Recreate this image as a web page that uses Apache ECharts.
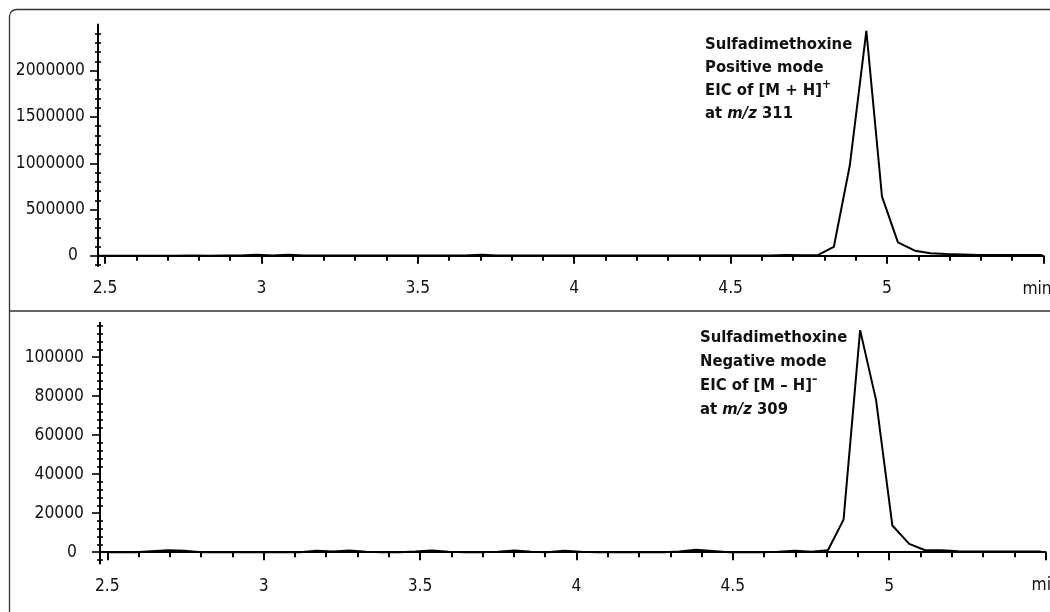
<!DOCTYPE html>
<html>
<head>
<meta charset="utf-8">
<script src="https://cdn.jsdelivr.net/npm/echarts@6/dist/echarts.min.js"></script>
<style>
html,body{margin:0;padding:0;background:#fff;}
#chart{width:1050px;height:612px;}
</style>
</head>
<body>
<div id="chart"></div>
<script>
// ---- data ----
const posTime = [2.478, 2.523, 2.574, 2.626, 2.677, 2.728, 2.779, 2.831, 2.882, 2.933, 2.985, 3.036, 3.087, 3.138, 3.190, 3.241, 3.292, 3.344, 3.395, 3.446, 3.498, 3.549, 3.600, 3.651, 3.703, 3.754, 3.805, 3.857, 3.908, 3.959, 4.011, 4.062, 4.113, 4.164, 4.216, 4.267, 4.318, 4.370, 4.421, 4.472, 4.524, 4.575, 4.626, 4.677, 4.729, 4.780, 4.830, 4.881, 4.934, 4.984, 5.035, 5.089, 5.139, 5.190, 5.241, 5.292, 5.344, 5.395, 5.446, 5.497];
const posIntensity = [2000, 2000, 2000, 2000, 2000, 2000, 2500, 2000, 2500, 3000, 12000, 4000, 12000, 4000, 3000, 2500, 2500, 2500, 2500, 2500, 2500, 2500, 3000, 3000, 11000, 3000, 2500, 2500, 2500, 2500, 2500, 2500, 2500, 2500, 2500, 2500, 2500, 3000, 3000, 3000, 3000, 3500, 4000, 10000, 5000, 9000, 97000, 975000, 2430000, 640000, 145000, 55000, 27000, 20000, 15000, 9000, 8000, 8000, 8000, 8000];

const negTime = [2.506, 2.589, 2.641, 2.694, 2.747, 2.800, 2.852, 2.905, 2.958, 3.011, 3.063, 3.116, 3.169, 3.222, 3.274, 3.327, 3.380, 3.433, 3.485, 3.538, 3.591, 3.644, 3.696, 3.749, 3.802, 3.855, 3.907, 3.960, 4.013, 4.066, 4.118, 4.171, 4.224, 4.277, 4.329, 4.382, 4.435, 4.488, 4.540, 4.593, 4.646, 4.699, 4.751, 4.804, 4.854, 4.907, 4.958, 5.010, 5.064, 5.115, 5.168, 5.221, 5.275, 5.328, 5.380, 5.433, 5.485];
const negIntensity = [0, 0, 500, 1000, 800, 0, 0, 0, 0, 0, 0, 0, 700, 300, 900, 200, 0, 0, 300, 900, 200, 0, 0, 200, 900, 200, 0, 800, 200, 0, 0, 0, 0, 0, 400, 1200, 600, 0, 0, 0, 200, 800, 200, 1000, 16700, 113900, 78000, 13700, 4300, 1000, 1000, 500, 300, 300, 300, 300, 300];

const xMajorTicks = [2.5, 3, 3.5, 4, 4.5, 5, 5.5];
const xTickLabels = [2.5, 3, 3.5, 4, 4.5, 5];
const xMinorTicks = [2.6, 2.7, 2.8, 2.9, 3.1, 3.2, 3.3, 3.4, 3.6, 3.7, 3.8, 3.9, 4.1, 4.2, 4.3, 4.4, 4.6, 4.7, 4.8, 4.9, 5.1, 5.2, 5.3, 5.4];
const posYTicks = [0, 500000, 1000000, 1500000, 2000000];
const posYMinor = [-100000, 100000, 200000, 300000, 400000, 600000, 700000, 800000, 900000, 1100000, 1200000, 1300000, 1400000, 1600000, 1700000, 1800000, 1900000, 2100000, 2200000, 2300000, 2400000];
const negYTicks = [0, 20000, 40000, 60000, 80000, 100000];
const negYMinor = [-4000, 4000, 8000, 12000, 16000, 24000, 28000, 32000, 36000, 44000, 48000, 52000, 56000, 64000, 68000, 72000, 76000, 84000, 88000, 92000, 96000, 104000, 108000, 112000, 116000];

const posLabel = ['Sulfadimethoxine', 'Positive mode', 'EIC of [M + H]', '+', 'at ', 'm/z', ' 311'];
const negLabel = ['Sulfadimethoxine', 'Negative mode', 'EIC of [M \u2013 H]', '\u2013', 'at ', 'm/z', ' 309'];

// ---- styling ----
const FONT = '"DejaVu Sans Condensed", "Liberation Sans", sans-serif';
const INK = '#111';
const FS = 17.3;
const labelStyle = { fontFamily: FONT, fontSize: FS, color: INK };

function pairs(t, v) { return t.map((x, i) => [x, v[i]]); }

function xAxes(grid, min, max, name, nameGap) {
  return [
    {
      gridIndex: grid, type: 'value', position: 'bottom', min: min, max: max,
      axisLine: { show: true, lineStyle: { color: '#000', width: 2 } },
      axisTick: { show: true, customValues: xMajorTicks, length: 8, lineStyle: { color: '#000', width: 2 } },
      axisLabel: Object.assign({ customValues: xTickLabels, margin: 14.5, formatter: v => String(v), hideOverlap: false }, labelStyle),
      splitLine: { show: false },
      name: name, nameLocation: 'end', nameGap: nameGap, nameMoveOverlap: false,
      nameTextStyle: { fontFamily: FONT, fontSize: FS, color: INK, align: 'left', verticalAlign: 'top', padding: [25, 0, 0, 0] }
    },
    {
      gridIndex: grid, type: 'value', position: 'bottom', min: min, max: max,
      axisLine: { show: false },
      axisTick: { show: true, customValues: xMinorTicks, length: 5, lineStyle: { color: '#000', width: 2 } },
      axisLabel: { show: false },
      splitLine: { show: false }
    }
  ];
}

function yAxes(grid, min, max, major, minor, margin) {
  return [
    {
      gridIndex: grid, type: 'value', position: 'left', min: min, max: max,
      axisLine: { show: true, lineStyle: { color: '#000', width: 2 } },
      axisTick: { show: true, customValues: major, length: 8, lineStyle: { color: '#000', width: 1.6 } },
      axisLabel: Object.assign({
        customValues: major, margin: margin,
        formatter: v => (v === 0 ? '{z|0}' : String(v)),
        rich: { z: { fontFamily: FONT, fontSize: FS, color: INK, padding: [0, 7, 0, 0] } }
      }, labelStyle),
      splitLine: { show: false }
    },
    {
      gridIndex: grid, type: 'value', position: 'left', min: min, max: max,
      axisLine: { show: false },
      axisTick: { show: true, customValues: minor, length: 3, lineStyle: { color: '#000', width: 1.6 } },
      axisLabel: { show: false }, splitLine: { show: false }
    },
    {
      gridIndex: grid, type: 'value', position: 'left', min: min, max: max,
      axisLine: { show: false },
      axisTick: { show: true, inside: true, customValues: minor, length: 3, lineStyle: { color: '#000', width: 1.6 } },
      axisLabel: { show: false }, splitLine: { show: false }
    }
  ];
}

function annotation(parts, left, top, lh) {
  return {
    left: left, top: top, padding: 0,
    text: '{b|' + parts[0] + '}\n{b|' + parts[1] + '}\n{b|' + parts[2] + '}{s|' + parts[3] + '}\n{b|' + parts[4] + '}{i|' + parts[5] + '}{b|' + parts[6] + '}',
    textStyle: {
      rich: {
        b: { fontFamily: FONT, fontSize: 16.5, fontWeight: 'bold', color: INK, lineHeight: lh },
        i: { fontFamily: FONT, fontSize: 16.5, fontWeight: 'bold', fontStyle: 'italic', color: INK, lineHeight: lh },
        s: { fontFamily: FONT, fontSize: 12, fontWeight: 'bold', color: INK, lineHeight: 10, verticalAlign: 'top' }
      }
    }
  };
}

const chart = echarts.init(document.getElementById('chart'), null, { renderer: 'canvas' });
const topX = xAxes(0, 2.4776, 5.5, 'min', -21);
const botX = xAxes(1, 2.4767, 5.5, 'min', -14);
const topY = yAxes(0, -110000, 2500000, posYTicks, posYMinor, 13);
const botY = yAxes(1, -5800, 117700, negYTicks, negYMinor, 16);

chart.setOption({
  animation: false,
  backgroundColor: '#fff',
  title: [annotation(posLabel, 705, 33, 23), annotation(negLabel, 700, 326, 24)],
  grid: [
    { left: 98, right: 6.6, top: 24.4, bottom: 346, containLabel: false, outerBoundsMode: 'none' },
    { left: 100, right: 4.4, top: 322.7, bottom: 48.5, containLabel: false, outerBoundsMode: 'none' }
  ],
  xAxis: topX.concat(botX),
  yAxis: topY.concat(botY),
  graphic: [
    { type: 'rect', silent: true, z: -1, shape: { x: 9.5, y: 9.5, width: 1200, height: 800, r: 7 }, style: { fill: null, stroke: '#333', lineWidth: 1.3 } },
    { type: 'line', silent: true, z: -1, shape: { x1: 9.5, y1: 311, x2: 1050, y2: 311 }, style: { stroke: '#333', lineWidth: 1.3 } }
  ],
  series: [
    { type: 'line', xAxisIndex: 0, yAxisIndex: 0, data: pairs(posTime, posIntensity), showSymbol: false, symbol: 'none', lineStyle: { color: '#000', width: 2 }, clip: true },
    { type: 'line', xAxisIndex: 2, yAxisIndex: 3, data: pairs(negTime, negIntensity), showSymbol: false, symbol: 'none', lineStyle: { color: '#000', width: 2 }, clip: true }
  ]
});
</script>
</body>
</html>
